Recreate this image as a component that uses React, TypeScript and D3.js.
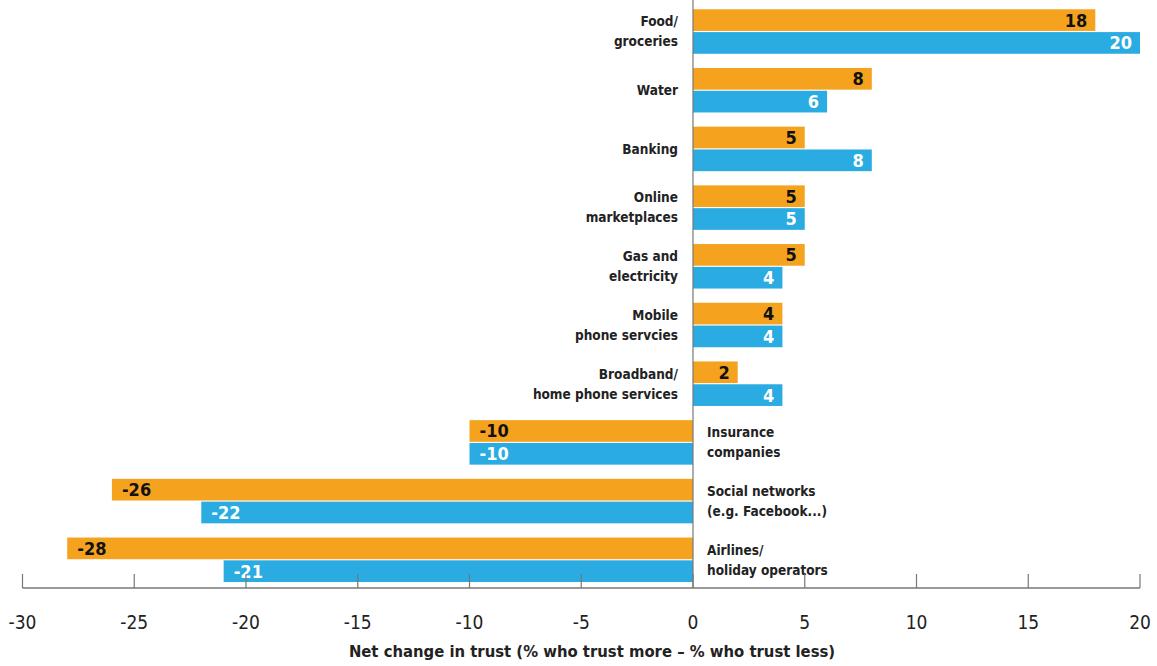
import React from "react";
import * as d3 from "d3";

const categories: string[][] = [
  ["Food/", "groceries"],
  ["Water"],
  ["Banking"],
  ["Online", "marketplaces"],
  ["Gas and", "electricity"],
  ["Mobile", "phone servcies"],
  ["Broadband/", "home phone services"],
  ["Insurance", "companies"],
  ["Social networks", "(e.g. Facebook...)"],
  ["Airlines/", "holiday operators"],
];
const seriesA: number[] = [18, 8, 5, 5, 5, 4, 2, -10, -26, -28];
const seriesB: number[] = [20, 6, 8, 5, 4, 4, 4, -10, -22, -21];
const ticks: number[] = [-30, -25, -20, -15, -10, -5, 0, 5, 10, 15, 20];
const axisTitle = "Net change in trust (% who trust more \u2013 % who trust less)";

const W = 1157;
const H = 666;
const ORANGE = "#F5A31F";
const BLUE = "#2AABE2";
const FONT = "'Liberation Sans Narrow', 'DejaVu Sans Condensed', 'Roboto', sans-serif";

export default function App() {
  const x = d3.scaleLinear().domain([-30, 20]).range([22.5, 1140]);
  const keys = categories.map((_, i) => String(i));
  const y = d3.scaleBand().domain(keys).range([3.4, 587.9]).paddingInner(0.242).paddingOuter(0.1);
  const inner = d3.scaleBand().domain(["a", "b"]).range([0, y.bandwidth()]).paddingInner(0.05);
  const axisY = 588;
  const x0 = x(0);

  return (
    <svg width={W} height={H} style={{ position: "absolute", left: 0, top: 0, background: "#fff" }} fontFamily={FONT}>
      {categories.map((lines, i) => {
        const gy = y(String(i))!;
        const cy = gy + y.bandwidth() / 2;
        const pos = seriesA[i] >= 0;
        const bars = [
          { key: "a", v: seriesA[i], fill: ORANGE, tc: "#111" },
          { key: "b", v: seriesB[i], fill: BLUE, tc: "#fff" },
        ];
        return (
          <g key={i}>
            {bars.map((b) => {
              const by = gy + inner(b.key)!;
              const bh = inner.bandwidth();
              const xl = Math.min(x(b.v), x0);
              const w = Math.abs(x(b.v) - x0);
              const neg = b.v < 0;
              return (
                <g key={b.key}>
                  <rect x={xl} y={by} width={w} height={bh} fill={b.fill} />
                  <text
                    x={neg ? x(b.v) + 10 : x(b.v) - 8}
                    y={by + bh / 2}
                    dy="0.36em"
                    textAnchor={neg ? "start" : "end"}
                    fontSize={18}
                    fontWeight="bold"
                    fill={b.tc}
                  >
                    {b.v}
                  </text>
                </g>
              );
            })}
            {lines.map((t, j) => (
              <text
                key={j}
                x={pos ? x0 - 15 : x0 + 14}
                y={cy + (j - (lines.length - 1) / 2) * 20}
                dy="0.36em"
                textAnchor={pos ? "end" : "start"}
                fontSize={13.5}
                fontWeight="bold"
                fill="#222"
              >
                {t}
              </text>
            ))}
          </g>
        );
      })}
      <line x1={x0} x2={x0} y1={0} y2={axisY} stroke="#777" strokeWidth={1.2} />
      <line x1={x(-30)} x2={x(20)} y1={axisY} y2={axisY} stroke="#777" strokeWidth={1.5} />
      {ticks.map((t) => (
        <g key={t}>
          <line x1={x(t)} x2={x(t)} y1={axisY - 14} y2={axisY} stroke="#777" strokeWidth={1.2} />
          <text x={x(t)} y={622} dy="0.36em" textAnchor="middle" fontSize={19} fill="#222">
            {t}
          </text>
        </g>
      ))}
      <text x={592} y={651} dy="0.36em" textAnchor="middle" fontSize={16.5} fontWeight="bold" fill="#222">
        {axisTitle}
      </text>
    </svg>
  );
}
